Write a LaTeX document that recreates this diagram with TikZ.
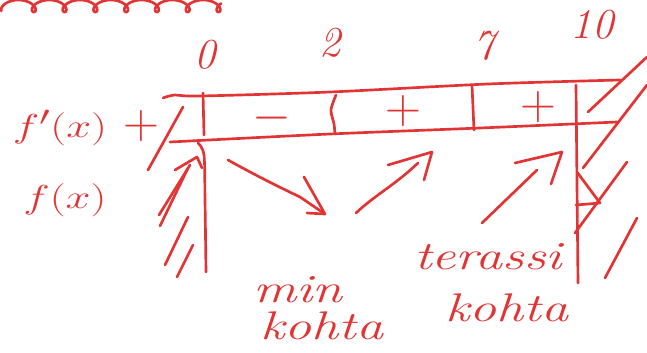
\documentclass[tikz,border=0pt]{standalone}
\begin{document}
\begin{tikzpicture}[x=0.75pt,y=-0.75pt,
  pen/.style={draw=ink, line width=2pt, line cap=round, line join=round},
  lbl/.style={text=ink, inner sep=0pt, font=\fontsize{32}{34}\selectfont\itshape},
  big/.style={text=ink, inner sep=0pt, font=\fontsize{30}{32}\selectfont\itshape, xscale=1.35},
  sgn/.style={text=ink, inner sep=0pt, font=\fontsize{24}{26}\selectfont, scale=1.5}]
\definecolor{ink}{RGB}{226,52,52}
\useasboundingbox (0,0) rectangle (647,353);
% cut-off writing at the top
\draw[pen] plot[domain=0.6:46, samples=400] ({3+4.9*\x - 8*sin(\x r)}, {6 + 6*cos(\x r)});
% numbers
\node[lbl] (n0) at (205,55) {0};
\node[lbl] (n2) at (330,43) {2};
\node[lbl] (n7) at (484,46) {7};
\node[lbl] (n10) at (592,25) {10};
% table
\draw[pen] plot[smooth] coordinates {(163,98) (175,95) (200,96) (330,92) (488,84) (620,80)};
\draw[pen] plot[smooth] coordinates {(170,142) (330,134) (480,128) (617,122)};
\draw[pen] (203,93) -- (204,135);
\draw[pen] plot[smooth] coordinates {(198,143) (204,155) (205,200) (206,272)};
\draw[pen] plot[smooth] coordinates {(336,95) (331,110) (334,124) (335,134)};
\draw[pen] (472,85) -- (474,130);
\draw[pen] (576,85) -- (578,283);
% signs
\node[sgn] (m1) at (272,118) {$-$};
\node[sgn] (p1) at (403,111) {$+$};
\node[sgn] (p2) at (538,107) {$+$};
% row labels
\node[big] (fd) at (60,128) {$f'(x)$};
\node[sgn] (pl) at (141,126) {$+$};
\node[big] (fx) at (65,200) {$f(x)$};
% left hatching
\draw[pen] (148,170) -- (183,107);
\draw[pen] (159,215) -- (190,165);
\draw[pen] (160,226) -- (188,168);
\draw[pen] (175,170) -- (197,157) -- (202,168);
\draw[pen] (165,265) -- (188,217);
\draw[pen] (177,277) -- (193,245);
% arrows
\draw[pen] (228,160) .. controls (255,175) and (275,185) .. (300,197) -- (322,212);
\draw[pen] (304,177) -- (325,214) -- (307,213);
\draw[pen] (356,213) .. controls (375,195) and (395,185) .. (418,163);
\draw[pen] (388,165) -- (432,152) -- (424,180);
\draw[pen] (482,223) -- (537,170);
\draw[pen] (515,163) -- (562,152) -- (551,184);
% right hatching
\draw[pen] (588,112) -- (647,57);
\draw[pen] (583,168) -- (647,85);
\draw[pen] (575,233) -- (627,162);
\draw[pen] (605,278) -- (637,218);
\draw[pen] (577,172) -- (600,203) -- (576,205);
% words
\node[big] (mn) at (298,290) {min};
\node[big] (k1) at (322,326) {kohta};
\node[big] (tr) at (488,257) {terassi};
\node[big] (k2) at (507,308) {kohta};
\end{tikzpicture}
\end{document}
